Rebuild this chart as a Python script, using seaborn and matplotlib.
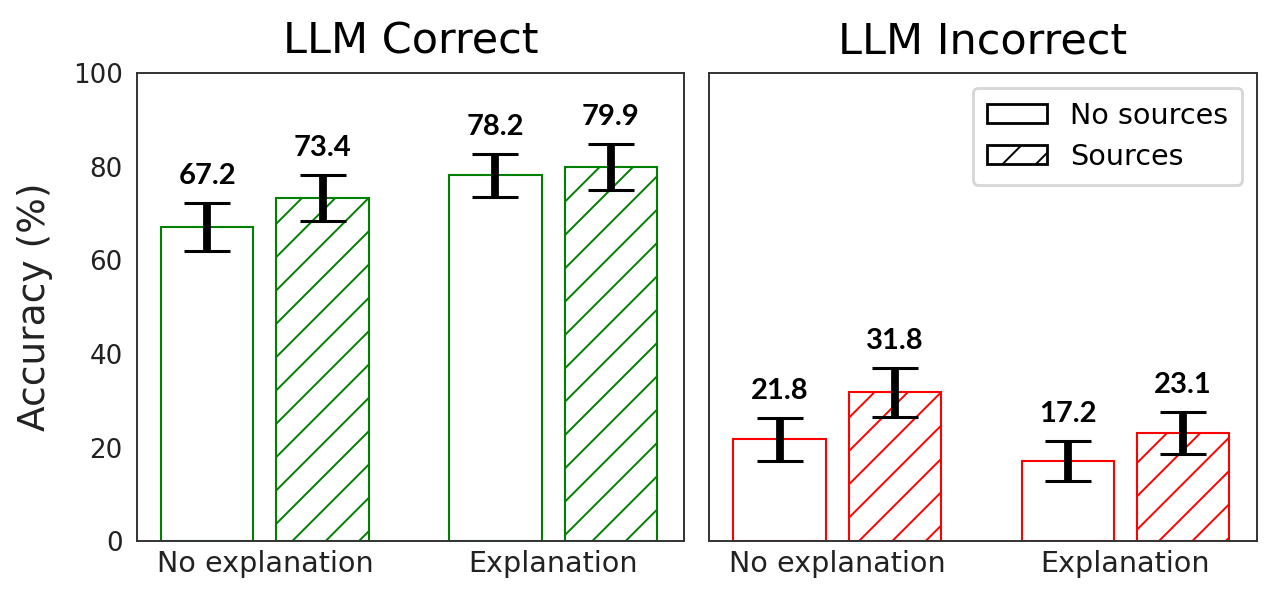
import pandas as pd
import matplotlib.pyplot as plt
import seaborn as sns
from matplotlib.patches import Patch

# values
panels = ['LLM Correct', 'LLM Incorrect']
panel_colors = ['green', 'red']
conditions = ['No explanation', 'Explanation']
source_levels = ['No sources', 'Sources']

correct_acc = [67.2, 73.4, 78.2, 79.9]      # (NoExp,NoSrc), (NoExp,Src), (Exp,NoSrc), (Exp,Src)
correct_err = [5.1, 4.9, 4.6, 4.9]
incorrect_acc = [21.8, 31.8, 17.2, 23.1]
incorrect_err = [4.6, 5.2, 4.3, 4.5]

sns.set_style('white')
plt.rcParams['font.family'] = ['DejaVu Sans']
plt.rcParams['text.color'] = 'black'
plt.rcParams['hatch.linewidth'] = 0.7

# small figure at high dpi -> 1277x600 px
fig, axes = plt.subplots(1, 2, figsize=(6.385, 3.0), dpi=200, sharey=True)
fig.subplots_adjust(left=0.107, right=0.984, top=0.878, bottom=0.098, wspace=0.045)

for ax, title, color, acc, err in zip(axes, panels, panel_colors,
                                      [correct_acc, incorrect_acc],
                                      [correct_err, incorrect_err]):
    df = pd.DataFrame({
        'condition': [c for c in conditions for _ in source_levels],
        'source': source_levels * len(conditions),
        'acc': acc,
        'err': err,
    })
    sns.barplot(data=df, x='condition', y='acc', hue='source', order=conditions,
                hue_order=source_levels, errorbar=None, gap=0.2, ax=ax,
                fill=False, legend=False)
    # patches come out hue-major: all "No sources" then all "Sources"
    for i, bar in enumerate(ax.patches):
        src = source_levels[i // len(conditions)]
        cond = conditions[i % len(conditions)]
        row = df[(df.condition == cond) & (df.source == src)].iloc[0]
        bar.set_facecolor('white')
        bar.set_edgecolor(color)
        bar.set_linewidth(0.75)
        bar.set_fill(True)
        if src == 'Sources':
            bar.set_hatch('//')
        xc = bar.get_x() + bar.get_width() / 2
        ax.errorbar(xc, row.acc, yerr=row.err, color='black', elinewidth=2.8,
                    capsize=8.2, capthick=1.1, zorder=5)
        ax.text(xc, row.acc + row.err + 3, f'{row.acc:.1f}', ha='center',
                va='bottom', fontsize=10.5, fontweight='bold', family='Lato')
    ax.set_title(title, fontsize=15.5, pad=7)
    ax.set_xlabel('')
    ax.set_ylim(0, 100)
    ax.set_xlim(-0.445, 1.455)
    ax.tick_params(axis='x', labelsize=10.3, length=0, pad=3, labelcolor='#222222')
    ax.tick_params(axis='y', labelsize=9.4, length=0, pad=5, labelcolor='#222222')
    for s in ax.spines.values():
        s.set_color('#333333')
        s.set_linewidth(0.7)

axes[0].set_ylabel('Accuracy (%)', fontsize=13.5, labelpad=7, color='#222222')
axes[1].set_ylabel('')
axes[1].tick_params(axis='y', labelleft=False)

handles = [Patch(facecolor='white', edgecolor='black', label='No sources'),
           Patch(facecolor='white', edgecolor='black', hatch='//', label='Sources')]
axes[1].legend(handles=handles, loc='upper right', fontsize=10.3, handlelength=2.1,
               handleheight=0.65, frameon=True, borderpad=0.5, labelspacing=0.45,
               handletextpad=0.8)

fig.savefig('out.png', dpi=200)
